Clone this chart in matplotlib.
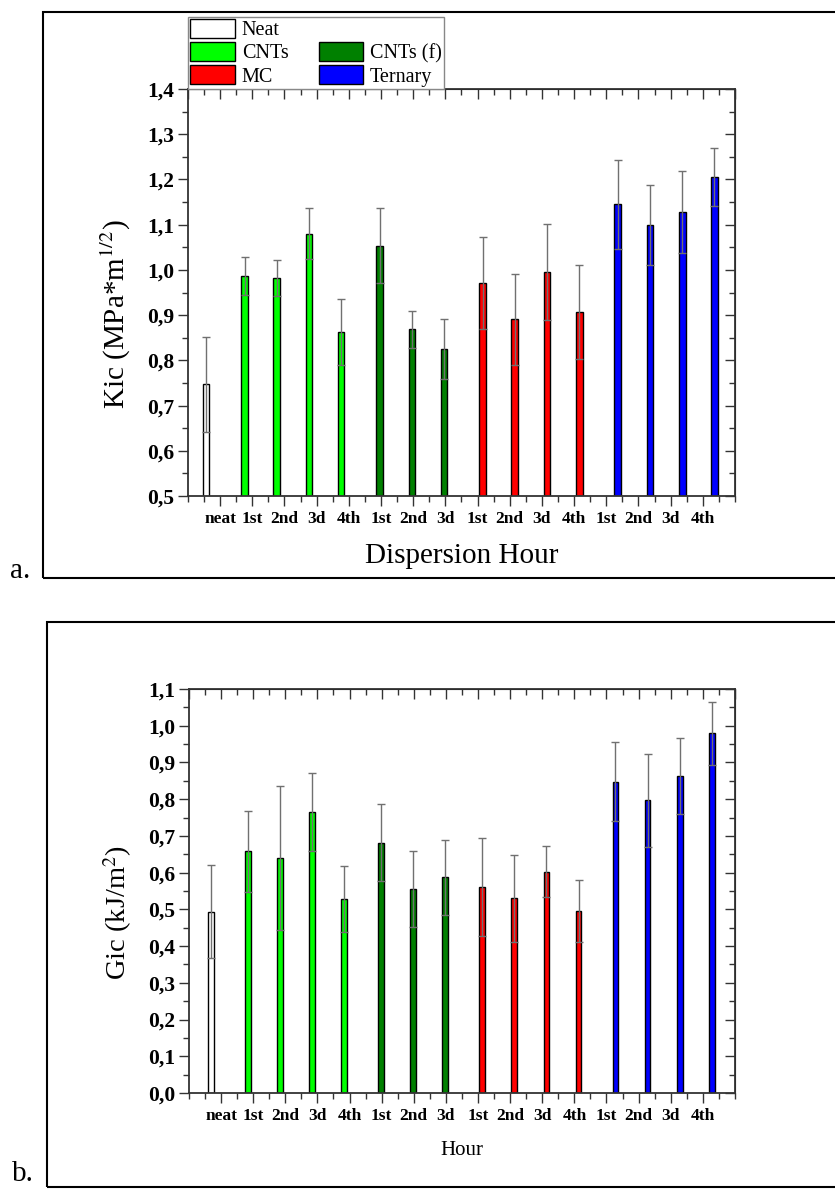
import matplotlib.pyplot as plt
import numpy as np
from matplotlib.patches import Patch, Rectangle
from matplotlib.ticker import MultipleLocator, NullFormatter, FuncFormatter

plt.rcParams['font.family'] = ['Liberation Serif', 'DejaVu Serif']
plt.rcParams['mathtext.fontset'] = 'stix'

# Dados
rotulos = ['neat', '1st', '2nd', '3d', '4th', '1st', '2nd', '3d',
           '1st', '2nd', '3d', '4th', '1st', '2nd', '3d', '4th']
grupo = [0, 1, 1, 1, 1, 2, 2, 2, 3, 3, 3, 3, 4, 4, 4, 4]
grupos = ['Neat', 'CNTs', 'CNTs (f)', 'MC', 'Ternary']
cores = ['white', '#00ff00', '#008000', '#ff0000', '#0000ff']

kic = [0.747, 0.987, 0.982, 1.080, 0.863, 1.054, 0.869, 0.825,
       0.971, 0.891, 0.996, 0.907, 1.145, 1.100, 1.128, 1.206]
kic_err = [0.105, 0.042, 0.039, 0.056, 0.073, 0.082, 0.041, 0.067,
           0.102, 0.101, 0.106, 0.105, 0.099, 0.088, 0.090, 0.064]

gic = [0.494, 0.658, 0.639, 0.765, 0.528, 0.682, 0.555, 0.588,
       0.561, 0.530, 0.603, 0.496, 0.848, 0.797, 0.864, 0.980]
gic_err = [0.126, 0.111, 0.196, 0.106, 0.090, 0.104, 0.104, 0.102,
           0.134, 0.118, 0.069, 0.085, 0.107, 0.126, 0.103, 0.086]


def virgula(v, pos):
    return f'{v:.1f}'.replace('.', ',')


def painel(ax, vals, errs, desloc, passo, largura, ymin, ymax,
           ylabel, yl_size, xlabel, xl_size, xl_y):
    idx = np.arange(len(vals))
    x = idx + desloc + passo * np.array(grupo)
    cor_barras = [cores[g] for g in grupo]
    ax.bar(x, vals, width=largura, color=cor_barras, edgecolor='black', linewidth=1,
           yerr=errs, capsize=3,
           error_kw=dict(ecolor='#707070', elinewidth=1, capthick=1))
    ax.set_xlim(0, 17)
    ax.set_ylim(ymin, ymax)
    ax.set_xticks(range(1, 17))
    ax.set_xticklabels(rotulos, fontsize=12.5, fontweight='bold')
    ax.xaxis.set_minor_locator(MultipleLocator(0.5))
    ax.yaxis.set_major_locator(MultipleLocator(0.1))
    ax.yaxis.set_minor_locator(MultipleLocator(0.05))
    ax.yaxis.set_major_formatter(FuncFormatter(virgula))
    for t in ax.get_yticklabels():
        t.set_fontweight('bold')
    ax.tick_params(which='major', direction='out', length=7, width=1, color='#333333', pad=4)
    ax.tick_params(which='minor', direction='out', length=4, width=1, color='#333333')
    ax.tick_params(axis='y', labelsize=15.5, pad=3)
    for s in ax.spines.values():
        s.set_linewidth(1.3)
        s.set_color('#333333')
    # ticks internos em cima e a direita
    top = ax.secondary_xaxis('top')
    top.xaxis.set_major_locator(MultipleLocator(1))
    top.xaxis.set_minor_locator(MultipleLocator(0.5))
    top.xaxis.set_major_formatter(NullFormatter())
    top.tick_params(which='major', direction='in', length=7, width=1, color='#333333')
    top.tick_params(which='minor', direction='in', length=4, width=1, color='#333333')
    dir_ = ax.secondary_yaxis('right')
    dir_.yaxis.set_major_locator(MultipleLocator(0.1))
    dir_.yaxis.set_minor_locator(MultipleLocator(0.05))
    dir_.yaxis.set_major_formatter(NullFormatter())
    dir_.tick_params(which='major', direction='in', length=7, width=1, color='#333333')
    dir_.tick_params(which='minor', direction='in', length=4, width=1, color='#333333')
    ax.set_ylabel(ylabel, fontsize=yl_size)
    ax.yaxis.set_label_coords(-0.10, 0.447)
    ax.set_xlabel(xlabel, fontsize=xl_size)
    ax.xaxis.set_label_coords(0.5, xl_y)


fig = plt.figure(figsize=(8.35, 11.89), dpi=100)

ax1 = fig.add_axes([0.2251, 0.5828, 0.6551, 0.3423])
painel(ax1, kic, kic_err, 0.56, 0.2, 0.21, 0.5, 1.4,
       r'Kic (MPa*m$^{1/2}$)', 21, 'Dispersion Hour', 21, -0.115)

ax2 = fig.add_axes([0.2263, 0.0807, 0.6539, 0.3398])
painel(ax2, gic, gic_err, 0.68, 0.15, 0.18, 0.0, 1.1,
       r'Gic (kJ/m$^2$)', 20.5, 'Hour', 15, -0.118)

# Legenda
h = [Patch(facecolor=cores[0], edgecolor='black', label=grupos[0]),
     Patch(facecolor=cores[1], edgecolor='black', label=grupos[1]),
     Patch(facecolor=cores[3], edgecolor='black', label=grupos[3]),
     Patch(facecolor='none', edgecolor='none', label=''),
     Patch(facecolor=cores[2], edgecolor='black', label=grupos[2]),
     Patch(facecolor=cores[4], edgecolor='black', label=grupos[4])]
leg = ax1.legend(handles=h, ncol=2, loc='lower left', bbox_to_anchor=(0.0, 1.0),
                 borderaxespad=0, fontsize=14.5, handlelength=2.2, handleheight=1.05,
                 labelspacing=0.1, columnspacing=1.5, handletextpad=0.35,
                 borderpad=0.12, fancybox=False, framealpha=1)
leg.get_frame().set_edgecolor('#888888')
leg.get_frame().set_linewidth(1)

# Molduras dos paineis
fig.add_artist(Rectangle((0.0515, 0.5139), 1.2, 0.476, transform=fig.transFigure,
                         fill=False, edgecolor='black', linewidth=1.5))
fig.add_artist(Rectangle((0.0563, 0.0017), 1.2, 0.4752, transform=fig.transFigure,
                         fill=False, edgecolor='black', linewidth=1.5))
fig.text(0.012, 0.514, 'a.', fontsize=21, va='baseline')
fig.text(0.014, 0.007, 'b.', fontsize=21, va='baseline')

plt.savefig('out.png', dpi=100)
